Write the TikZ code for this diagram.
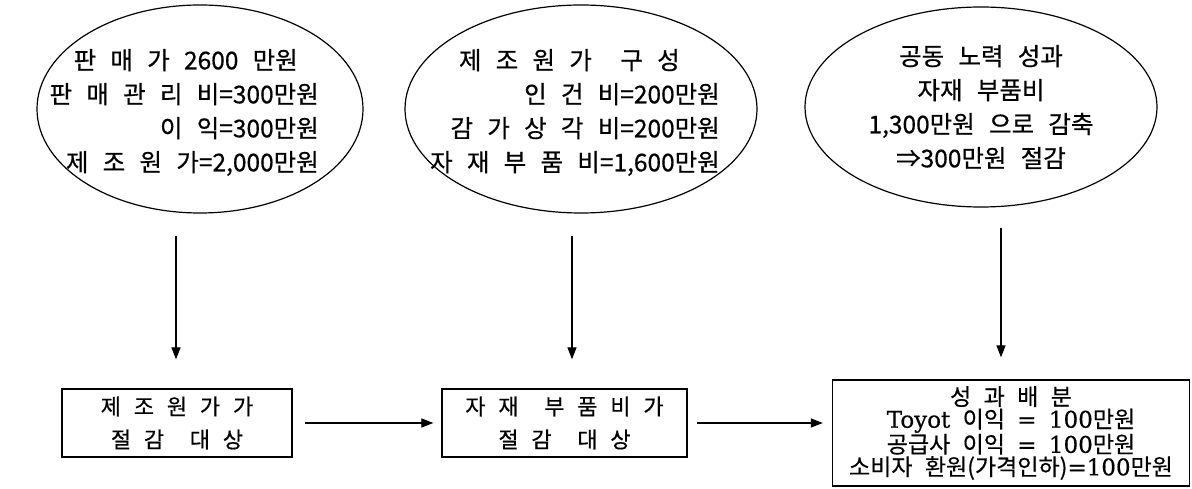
\documentclass[tikz,border=0pt]{standalone}
\usepackage{fontspec}
\usetikzlibrary{shapes.geometric,arrows.meta,calc}
\newfontfamily\krE[WordSpace=2.2,FakeBold=0.6]{Noto Sans CJK KR}
\newfontfamily\krB[WordSpace=2.6,FakeBold=0.6]{Noto Sans CJK KR}
\newfontfamily\krC[WordSpace=2.4,FakeBold=0.5]{Noto Sans CJK KR}
\newfontfamily\serA[FakeBold=0.5]{DejaVu Serif}
\begin{document}
\begin{tikzpicture}[x=1pt,y=-1pt,
  ell/.style={draw, ellipse, line width=1.2pt, inner sep=0pt, align=center},
  box/.style={draw, rectangle, line width=1.3pt, inner sep=0pt, align=center},
  arr/.style={-{Triangle[length=12pt,width=9pt]}, line width=1.2pt},
  etext/.style={align=right, inner sep=0pt, font=\krE\fontsize{24.5}{34}\selectfont},
  ctext/.style={font=\krE\fontsize{24.5}{34}\selectfont},
  btext/.style={font=\krB\fontsize{22}{33}\selectfont},
  rtext/.style={font=\krC\fontsize{23}{22.5}\selectfont}]
\useasboundingbox (0,0) rectangle (1192,489);
% ellipses
\node[ell, minimum width=326pt, minimum height=208pt] (e1) at (200,109) {};
\node[etext, anchor=east] (t1) at (319,112.5) {판 매 가 2600 만원\hspace*{21pt}\\판 매 관 리 비=300만원\\이 익=300만원\\제 조 원 가=2,000만원};
\node[ell, minimum width=352pt, minimum height=208pt] (e2) at (581,109) {};
\node[etext, anchor=east] (t2) at (720,112.5) {제 조 원 가\ \ 구 성\hspace*{40pt}\\인 건 비=200만원\\감 가 상 각 비=200만원\\자 재 부 품 비=1,600만원};
\node[ell, ctext, minimum width=352pt, minimum height=200pt] (e3) at (981,107) {공동 노력 성과\\자재 부품비\\1,300만원 으로 감축\\⇒300만원 절감};
% boxes
\node[box, btext, minimum width=230pt, minimum height=68pt] (b1) at (177,423) {제 조 원 가 가\\절 감\ \ 대 상};
\node[box, btext, minimum width=245pt, minimum height=68pt] (b2) at (564.5,423) {자 재\ \ 부 품 비 가\\절 감\ \ 대 상};
\node[box, rtext, minimum width=357pt, minimum height=106pt] (b3) at (1011,433) {성 과 배 분\\{\serA Toyot} 이익 {\serA =} {\serA 100}만원\\공급사 이익 {\serA =} {\serA 100}만원\\소비자 환원(가격인하){\serA =100}만원};
% arrows
\draw[arr, shorten <=22pt, shorten >=29pt] ($(b1.north |- e1.south)+(-1,0)$) -- ($(b1.north)+(-1,0)$);
\draw[arr, shorten <=22pt, shorten >=29pt] ($(b2.north |- e2.south)+(7.5,0)$) -- ($(b2.north)+(7.5,0)$);
\draw[arr, shorten <=20pt, shorten >=22pt] ($(b3.north |- e3.south)+(-10,0)$) -- ($(b3.north)+(-10,0)$);
\draw[arr, shorten <=12pt, shorten >=8pt] (b1.east) -- (b2.west);
\draw[arr, shorten <=9pt, shorten >=9pt] (b2.east) -- (b2.east -| b3.west);
\end{tikzpicture}
\end{document}
